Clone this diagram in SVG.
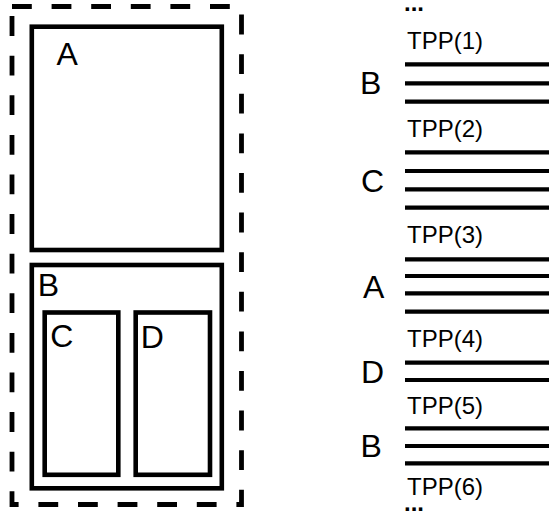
<svg xmlns="http://www.w3.org/2000/svg" width="549" height="512" viewBox="0 0 549 512">
<style>
.box{fill:none;stroke:#000;stroke-width:4.6}
.dash{fill:none;stroke:#000;stroke-width:4.8;stroke-dasharray:19.8 19.8}
.lbl{font-family:"Liberation Sans",Arial,sans-serif;font-size:32px;fill:#000}
.tpp{font-family:"Liberation Sans",Arial,sans-serif;font-size:24px;fill:#000}
.dots{font-family:"Liberation Sans",Arial,sans-serif;font-size:24px;font-weight:bold;fill:#000}
.ln{stroke:#000;stroke-width:4.2}
</style>
<rect fill="#fff" x="0" y="0" width="549" height="512"/>
<g id="frame">
<rect class="dash" x="12" y="6.5" width="229.5" height="498"/>
</g>
<g id="nodeA">
<rect class="box" x="31.8" y="26.7" width="190" height="223.3"/>
<text class="lbl" x="56.5" y="65">A</text>
</g>
<g id="nodeB">
<rect class="box" x="31.8" y="265" width="190" height="223.3"/>
<text class="lbl" x="37.7" y="296">B</text>
</g>
<g id="nodeC">
<rect class="box" x="44.7" y="312.5" width="73.6" height="162.3"/>
<text class="lbl" x="50.3" y="347">C</text>
</g>
<g id="nodeD">
<rect class="box" x="135.7" y="312.5" width="74.3" height="162.3"/>
<text class="lbl" x="140.8" y="348">D</text>
</g>
<g id="timeline">
<text class="dots" x="404" y="11">...</text>
<text class="tpp" x="407" y="49">TPP(1)</text>
<text class="lbl" x="360" y="94.3">B</text>
<line class="ln" x1="405" y1="64.3" x2="549" y2="64.3"/>
<line class="ln" x1="405" y1="83.3" x2="549" y2="83.3"/>
<line class="ln" x1="405" y1="101.7" x2="549" y2="101.7"/>
<text class="tpp" x="407" y="137">TPP(2)</text>
<text class="lbl" x="361" y="192">C</text>
<line class="ln" x1="405" y1="152.3" x2="549" y2="152.3"/>
<line class="ln" x1="405" y1="171" x2="549" y2="171"/>
<line class="ln" x1="405" y1="189.3" x2="549" y2="189.3"/>
<line class="ln" x1="405" y1="207.7" x2="549" y2="207.7"/>
<text class="tpp" x="407" y="243">TPP(3)</text>
<text class="lbl" x="363" y="298">A</text>
<line class="ln" x1="405" y1="259.3" x2="549" y2="259.3"/>
<line class="ln" x1="405" y1="276" x2="549" y2="276"/>
<line class="ln" x1="405" y1="293.3" x2="549" y2="293.3"/>
<line class="ln" x1="405" y1="311.7" x2="549" y2="311.7"/>
<text class="tpp" x="407" y="347">TPP(4)</text>
<text class="lbl" x="361" y="383">D</text>
<line class="ln" x1="405" y1="362.7" x2="549" y2="362.7"/>
<line class="ln" x1="405" y1="380" x2="549" y2="380"/>
<text class="tpp" x="407" y="414">TPP(5)</text>
<text class="lbl" x="360.5" y="457">B</text>
<line class="ln" x1="405" y1="428.3" x2="549" y2="428.3"/>
<line class="ln" x1="405" y1="446" x2="549" y2="446"/>
<line class="ln" x1="405" y1="463.3" x2="549" y2="463.3"/>
<text class="tpp" x="407" y="495">TPP(6)</text>
<text class="dots" x="404" y="511">...</text>
</g>
</svg>
